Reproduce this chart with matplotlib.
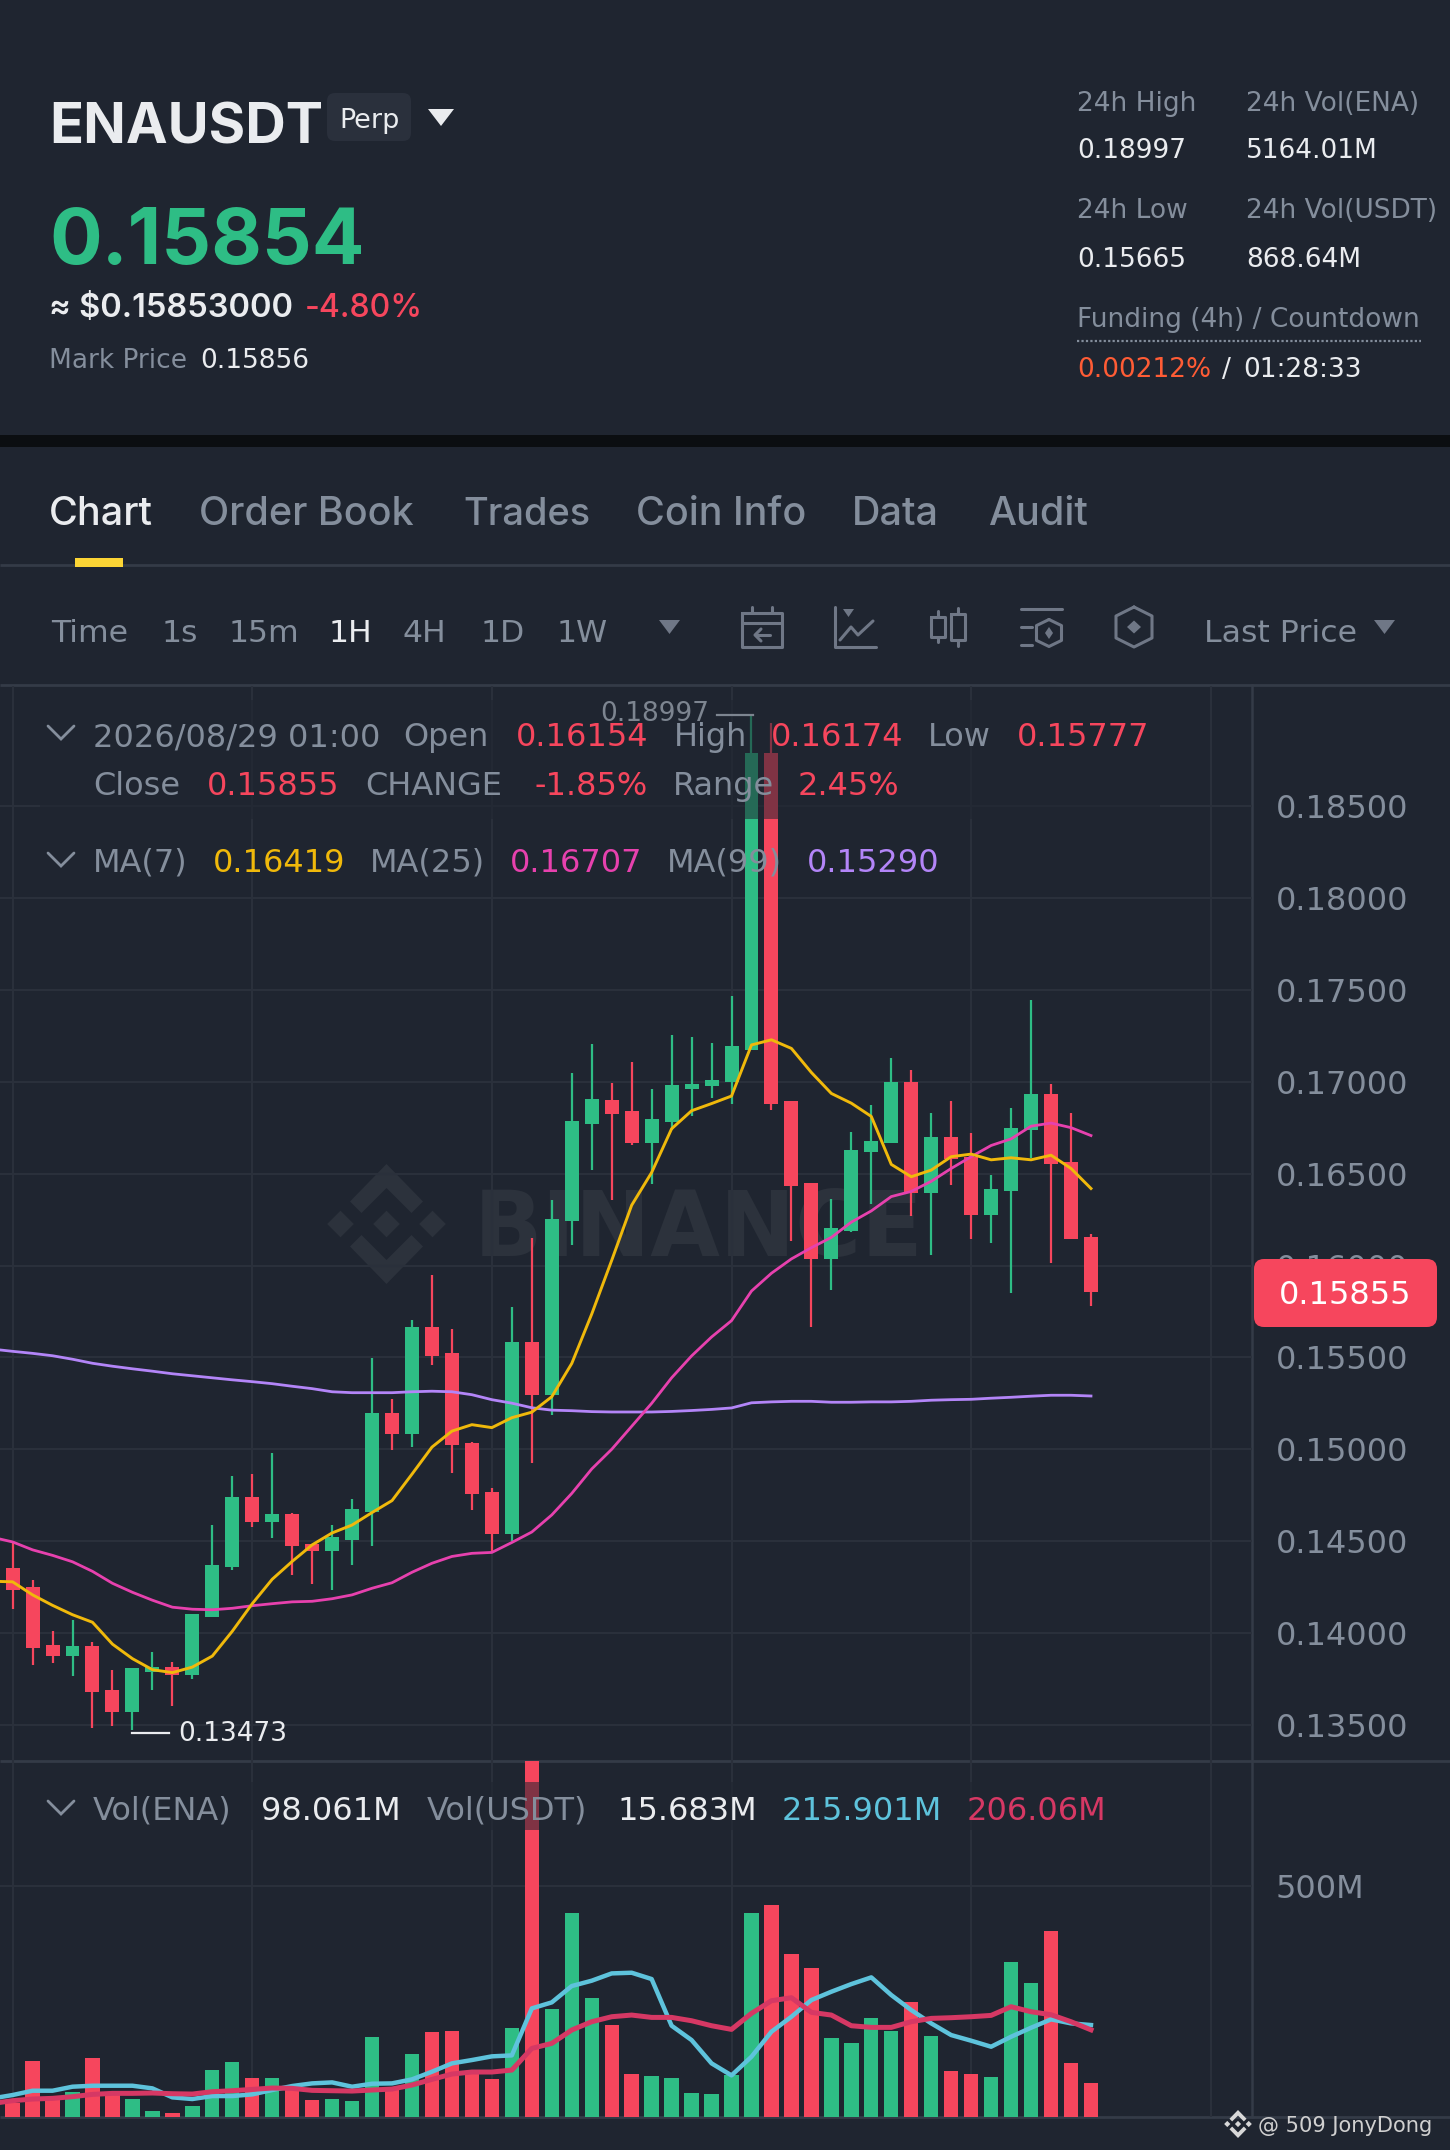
import numpy as np
import matplotlib
matplotlib.use("Agg")
import matplotlib.pyplot as plt
from matplotlib.patches import Polygon, Rectangle, FancyBboxPatch

plt.rcParams['font.family'] = ['DejaVu Sans']

# ---- data ----
opens = [.14355,.14249,.13934,.13877,.13929,.13693,.13573,.13788,.13815,.13771,.14089,.14358,.14743,.14605,.14646,.14485,.14445,.14507,.14659,.15199,.15085,.15666,.15522,.15036,.1477,.14537,.15585,.15294,.16244,.16771,.169,.16839,.16667,.16781,.16958,.16975,.17,.17175,.18786,.16894,.1645,.16033,.16189,.16617,.16664,.16997,.16392,.167,.16592,.16275,.16406,.16736,.16933,.16564,.16154]
highs = [.14499,.14287,.1401,.1407,.13951,.13799,.13812,.13896,.13842,.14103,.14588,.14857,.14863,.14979,.14651,.14485,.14586,.14727,.15495,.15275,.15704,.15948,.15653,.15039,.14787,.15775,.16149,.16358,.17048,.17205,.16992,.17106,.16961,.17256,.17244,.17208,.17467,.18997,.1895,.16894,.1645,.16361,.16728,.16872,.17128,.17064,.16831,.16897,.16722,.16494,.16856,.17442,.16986,.16831,.16174]
lows = [.14132,.13826,.13837,.13766,.13484,.13495,.13473,.1369,.13603,.1375,.14089,.14341,.14575,.14518,.14314,.14268,.14233,.14369,.14474,.14996,.15015,.15457,.14871,.1467,.14439,.14499,.14928,.15188,.16109,.16518,.16356,.16658,.16444,.16736,.16811,.16911,.16878,.17175,.16844,.16133,.15667,.15869,.16181,.16333,.16664,.16267,.16056,.16439,.16144,.16125,.15853,.16583,.16011,.16144,.15777]
closes = [.14233,.13921,.13877,.13929,.13682,.13573,.13812,.13815,.13771,.14103,.14371,.14743,.14605,.14646,.14472,.14445,.14521,.14673,.15199,.15085,.15666,.15509,.15023,.14757,.14537,.15585,.15294,.16252,.16784,.16904,.16822,.16667,.16797,.16981,.16989,.17011,.17192,.18786,.16881,.16433,.16033,.16203,.16631,.16678,.16997,.16397,.167,.16578,.16275,.16417,.1675,.16933,.1655,.16144,.15855]
# moving averages start one candle left of the visible window
ma7 = [.14282,.14279,.14208,.14151,.141,.14059,.1394,.13861,.13801,.13785,.13815,.13875,.1401,.1416,.14293,.1439,.1448,.14545,.14588,.14656,.14721,.14865,.15012,.15099,.15134,.15118,.15172,.15202,.15286,.15467,.15736,.16028,.16328,.16506,.16744,.16842,.16881,.16922,.172,.17228,.17181,.1705,.16936,.16883,.16811,.1655,.16483,.16519,.16592,.16606,.16575,.16586,.16575,.166,.16528,.16419]
ma25 = [.14521,.14496,.14453,.14423,.14388,.14336,.14271,.14222,.14179,.14141,.1413,.14127,.14135,.14149,.1416,.1417,.14173,.14187,.14208,.14244,.14274,.14331,.1438,.14417,.14434,.14439,.14493,.1455,.14643,.1476,.14893,.15,.15125,.1525,.15389,.15508,.15611,.157,.15861,.15958,.16036,.16097,.16153,.16236,.16297,.16375,.16403,.16458,.16528,.16592,.16653,.16689,.16758,.16775,.1675,.16707]
ma99 = [.15545,.15533,.15522,.15509,.1549,.15468,.15452,.15438,.15425,.15411,.154,.15389,.15378,.15368,.15357,.15343,.1533,.15313,.15308,.15308,.15308,.15313,.15316,.15313,.15297,.1527,.15251,.15226,.15213,.1521,.15205,.15203,.15203,.15203,.15206,.15211,.15217,.15225,.15253,.15258,.15261,.15261,.15256,.15256,.15258,.15258,.15261,.15267,.1527,.15272,.15278,.15283,.15289,.15294,.15294,.1529]
volumes = [55.8,142,62.7,79.7,147.8,72.9,64,40.2,35.4,51,124,141,106.9,107.6,86.5,63.3,64.7,61.3,191.4,86,156.6,201.6,203,120.5,105.6,209.7,790,247.9,444,271.7,217,116.5,112.4,106.9,77,74.2,113.7,444,461,362,331.6,188.6,179,229.5,203,263.5,194,121,115.8,110.3,344.6,301,407.9,139,98.06]
vol_ma_short = [66,72.9,81.7,81.7,89.9,91.9,91.9,91.9,86.5,68.1,64.7,70.8,70.8,74.2,83.1,91.3,96.7,98.7,89.9,96,96.7,104.9,120.5,137.6,144.4,151.9,153.9,249.9,262.2,295.6,306.5,321.4,322.8,309.9,214.5,185.2,137.6,113,151.2,202.3,232.9,267,284,299.6,313.3,277.2,246.5,219.3,195.4,183.9,171.6,192,210.4,227.5,219.3,215.901]
vol_ma_long = [55.8,61.3,64.7,66.1,69.5,74.2,76.3,76.3,77,75.6,74.9,79.7,81.7,84.4,87.2,86.5,82.4,81.7,81,83.1,85.1,93.3,104.9,115.8,119.9,119.9,123.9,168.2,178.4,205.7,222.7,232.9,236.3,231.5,231.5,224.7,214.5,207,239.7,265.6,271.7,241.8,236.3,214.5,211.1,211.1,222.7,229.5,230.9,232.9,235.6,253.3,243.1,237,222.7,206.06]
price_ticks = [.135,.14,.145,.15,.155,.16,.165,.17,.175,.18,.185]
price_tick_labels = ['0.13500','0.14000','0.14500','0.15000','0.15500','0.16000','0.16500','0.17000','0.17500','0.18000','0.18500']
vertical_grid = [0,12,24,36,48,60]
last_price = .15855

# ---- palette ----
BG='#1f2530'; GRID='#2a303b'; BORDER='#343b47'; GRAY='#848e9c'; WHITE='#eaecef'
GREEN='#2ebd85'; RED='#f6465d'; YEL='#f0b90b'; PINK='#e741ae'; PUR='#b385f8'
BLUE='#5ec3dc'; CRIM='#d63864'; ICON='#6f7786'; WM='#2c323c'

W,H=1450,2150
fig=plt.figure(figsize=(W/100,H/100),dpi=100,facecolor=BG)

def rect_axes(x0,y0,x1,y1,z):
    return fig.add_axes([x0/W,1-y1/H,(x1-x0)/W,(y1-y0)/H],zorder=z)

bg=rect_axes(0,0,W,H,0); bg.set_xlim(0,W); bg.set_ylim(H,0); bg.axis('off')
top=rect_axes(0,0,W,H,5); top.set_xlim(0,W); top.set_ylim(H,0); top.axis('off'); top.patch.set_alpha(0)

def T(x,y,s,px,c=GRAY,w=400,ha='left',family=None):
    kw={}
    if family: kw['family']=family
    top.text(x,y,s,fontsize=px*.72,color=c,fontweight=w,ha=ha,va='baseline',**kw)

def logo(a,cx,cy,r,color,z=1):
    k=r/60.
    def P(pts):
        a.add_patch(Polygon([(cx+px*k,cy+py*k) for px,py in pts],closed=True,fc=color,ec='none',zorder=z))
    chev=[(0,-60),(36.5,-22.5),(25,-11),(0,-36),(-25,-11),(-36.5,-22.5)]
    P(chev); P([(x,-y) for x,y in chev])
    for dx in (-46,0,46):
        P([(dx-13.3,0),(dx,-13.3),(dx+13.3,0),(dx,13.3)])

# black separator and panel rules
bg.add_patch(Rectangle((0,435),W,12,fc='#0b0e11',ec='none'))
for yy in (565,685,1761,2117):
    bg.plot([0,W],[yy,yy],color=BORDER,lw=2.0,solid_capstyle='butt')
bg.plot([1252,1252],[685,2117],color=BORDER,lw=1.8)

# watermark
logo(bg,386.5,1224,60,WM)
bg.text(474,1256,'BINANCE',fontsize=90*.72,color=WM,fontweight='bold',ha='left',va='baseline')

# ---- price panel ----
X0=-12.6/19.97; X1=(1252-12.6)/19.97
PS=.005/91.9
ax=rect_axes(0,686,1252,1761,1)
ax.patch.set_alpha(0)
ax.set_xlim(X0,X1)
ax.set_ylim(.135-(1761-1725)*PS,.135+(1725-686)*PS)
idx=np.arange(len(closes))
o=np.array(opens); c=np.array(closes)
colors=[GREEN if cc>=oo else RED for oo,cc in zip(o,c)]
ax.vlines(idx,lows,highs,colors=colors,lw=1.6,zorder=3)
ax.bar(idx,np.abs(c-o),bottom=np.minimum(o,c),width=.7,color=colors,zorder=3,linewidth=0)
xm=np.arange(-1,len(closes))
ax.plot(xm,ma99,color=PUR,lw=2.0,zorder=4,solid_joinstyle='round')
ax.plot(xm,ma25,color=PINK,lw=2.0,zorder=4,solid_joinstyle='round')
ax.plot(xm,ma7,color=YEL,lw=2.1,zorder=5,solid_joinstyle='round')
ax.set_xticks(vertical_grid)
ax.set_yticks(price_ticks)
ax.set_yticklabels(price_tick_labels)
ax.yaxis.tick_right()
ax.tick_params(axis='y',length=0,pad=17,labelsize=32*.72,labelcolor=GRAY)
ax.tick_params(axis='x',length=0,labelbottom=False)
ax.grid(True,color=GRID,lw=1.5,zorder=0)
ax.set_axisbelow(True)
for s in ax.spines.values(): s.set_visible(False)

# ---- volume panel ----
VS=500/244.7
vx=rect_axes(0,1761,1252,2117,1)
vx.patch.set_alpha(0)
vx.set_xlim(X0,X1)
vx.set_ylim((2130.7-2117)*VS,(2130.7-1761)*VS)
vx.bar(idx,volumes,width=.72,color=colors,linewidth=0,zorder=3)
vx.plot(xm,vol_ma_short,color=BLUE,lw=3.2,zorder=4,solid_joinstyle='round')
vx.plot(xm,vol_ma_long,color=CRIM,lw=3.6,zorder=5,solid_joinstyle='round')
vx.set_xticks(vertical_grid)
vx.set_yticks([500]); vx.set_yticklabels(['500M'])
vx.yaxis.tick_right()
vx.tick_params(axis='y',length=0,pad=17,labelsize=32*.72,labelcolor=GRAY)
vx.tick_params(axis='x',length=0,labelbottom=False)
vx.grid(True,color=GRID,lw=1.5,zorder=0)
vx.set_axisbelow(True)
for s in vx.spines.values(): s.set_visible(False)

# ---- header ----
T(49,143,'ENAUSDT',56,'#eaecef',700,family='Inter')
top.add_patch(FancyBboxPatch((333,99),72,36,boxstyle='round,pad=6,rounding_size=8',fc='#2a303c',ec='none',zorder=1))
T(339,128,'Perp',27,WHITE)
top.add_patch(Polygon([(428,109),(454,109),(441,126)],fc=WHITE,ec='none'))
T(49,264,'0.15854',78,GREEN,700,family='Inter')
T(49,317,'≈ $0.15853000',32.6,WHITE,600,family='Inter')
T(305,317,'-4.80%',32,RED,500,family='Inter')
HS=26.4
T(49,368,'Mark Price',HS)
T(200,368,'0.15856',HS,WHITE)

T(1077,111,'24h High',HS); T(1246,111,'24h Vol(ENA)',HS)
T(1077,158,'0.18997',HS,WHITE); T(1246,158,'5164.01M',HS,WHITE)
T(1077,218,'24h Low',HS); T(1246,218,'24h Vol(USDT)',HS)
T(1077,267,'0.15665',HS,WHITE); T(1246,267,'868.64M',HS,WHITE)
T(1077,327,'Funding (4h) / Countdown',HS)
top.plot([1077,1421],[341,341],color=GRAY,lw=1.6,ls=(0,(1,1)))
T(1077,377,'0.00212%',HS,'#ff5c35'); T(1222,377,'/',HS,WHITE); T(1243,377,'01:28:33',HS,WHITE)

# tabs
T(49,525,'Chart',39.5,WHITE,500,family='Inter')
for xx,s,sz in [(199,'Order Book',39.5),(463,'Trades',38),(636,'Coin Info',39.5),(852,'Data',39.5),(988,'Audit',39.5)]:
    T(xx,525,s,sz,GRAY,500,family='Inter')
top.add_patch(Rectangle((75,558),48,9,fc='#fcd535',ec='none'))

# toolbar
for xx,s,col in [(51,'Time',GRAY),(162,'1s',GRAY),(229,'15m',GRAY),(329,'1H',WHITE),(403,'4H',GRAY),(481,'1D',GRAY),(557,'1W',GRAY),(1204,'Last Price',GRAY)]:
    T(xx,642,s,31.5,col)
for x0,x1 in [(659,680),(1374,1395)]:
    top.add_patch(Polygon([(x0,620),(x1,620),((x0+x1)/2,634)],fc=ICON,ec='none'))
L=dict(color=ICON,lw=2.2,solid_capstyle='round',solid_joinstyle='round')
# calendar icon
top.plot([742,782,782,742,742],[613,613,647,647,613],**L); top.plot([742,782],[623,623],**L)
top.plot([752,752],[607,613],**L); top.plot([772,772],[607,613],**L)
top.plot([770,756],[635,635],**L); top.plot([761,755,761],[629,635,641],**L)
# chart icon
top.plot([835,835,876],[607,647,647],**L)
top.add_patch(Polygon([(843,609),(854,609),(848.5,617)],fc=ICON,ec='none'))
top.plot([840,851,858,873],[640,627,635,621],**L)
# candle icon
top.plot([931,945,945,931,931],[617,617,637,637,617],**L); top.plot([938,938],[611,617],**L); top.plot([938,938],[637,642],**L)
top.plot([951,965,965,951,951],[614,614,640,640,614],**L); top.plot([958,958],[608,614],**L); top.plot([958,958],[640,646],**L)
# indicator icon
top.plot([1021,1062],[609,609],**L); top.plot([1021,1032],[627,627],**L); top.plot([1021,1032],[645,645],**L)
def hexa(cx,cy,w,h):
    top.plot([cx,cx+w,cx+w,cx,cx-w,cx-w,cx],[cy-h,cy-h*.55,cy+h*.55,cy+h,cy+h*.55,cy-h*.55,cy-h],**L)
def dia(cx,cy,w,h):
    top.add_patch(Polygon([(cx-w,cy),(cx,cy-h),(cx+w,cy),(cx,cy+h)],fc=ICON,ec='none'))
hexa(1049,633,12.5,13.5); dia(1049,633,4,6)
hexa(1134,627,18,20); dia(1134,627,7,6.5)

# legend backdrops over the candles
top.add_patch(Rectangle((40,700),1120,119,fc=BG,ec='none',alpha=.55,zorder=1))
top.add_patch(Rectangle((40,1782),1120,48,fc=BG,ec='none',alpha=.55,zorder=1))

def chevron(y):
    top.plot([48,61,74],[y,y+13,y],color=GRAY,lw=2,solid_capstyle='round',solid_joinstyle='miter')
chevron(726); chevron(853); chevron(1801)
LP=32
T(93,746,'2026/08/29 01:00',LP); T(403,746,'Open',LP); T(516,746,'0.16154',LP,RED)
T(674,746,'High',LP); T(771,746,'0.16174',LP,RED); T(928,746,'Low',LP); T(1017,746,'0.15777',LP,RED)
T(93,795,'Close',LP); T(207,795,'0.15855',LP,RED); T(365,795,'CHANGE',LP); T(535,795,'-1.85%',LP,RED)
T(673,795,'Range',LP); T(798,795,'2.45%',LP,RED)
T(93,872,'MA(7)',LP); T(213,872,'0.16419',LP,YEL); T(370,872,'MA(25)',LP); T(510,872,'0.16707',LP,PINK)
T(667,872,'MA(99)',LP); T(807,872,'0.15290',LP,PUR)
T(93,1820,'Vol(ENA)',LP); T(261,1820,'98.061M',LP,WHITE); T(427,1820,'Vol(USDT)',LP)
T(617,1820,'15.683M',LP,WHITE); T(782,1820,'215.901M',LP,BLUE); T(967,1820,'206.06M',LP,CRIM)

# high/low annotations
T(600,721,'0.18997',26.4,'#7d8590')
top.plot([717,753],[714.5,714.5],color='#7d8590',lw=1.6)
top.plot([132,169],[1733,1733],color=WHITE,lw=1.6)
T(178,1741,'0.13473',26.4,WHITE)

# last price badge
top.add_patch(FancyBboxPatch((1264,1269),163,48,boxstyle='round,pad=10,rounding_size=10',fc=RED,ec='none',zorder=3))
top.text(1345,1304,'0.15855',fontsize=32*.72,color='white',ha='center',va='baseline',zorder=4)

# corner credit
logo(top,1238,2124,14,'#d8d8d8')
T(1258,2132,'@ 509 JonyDong',21,'#d0d0d0')

fig.savefig('out.png',dpi=100,facecolor=BG)
